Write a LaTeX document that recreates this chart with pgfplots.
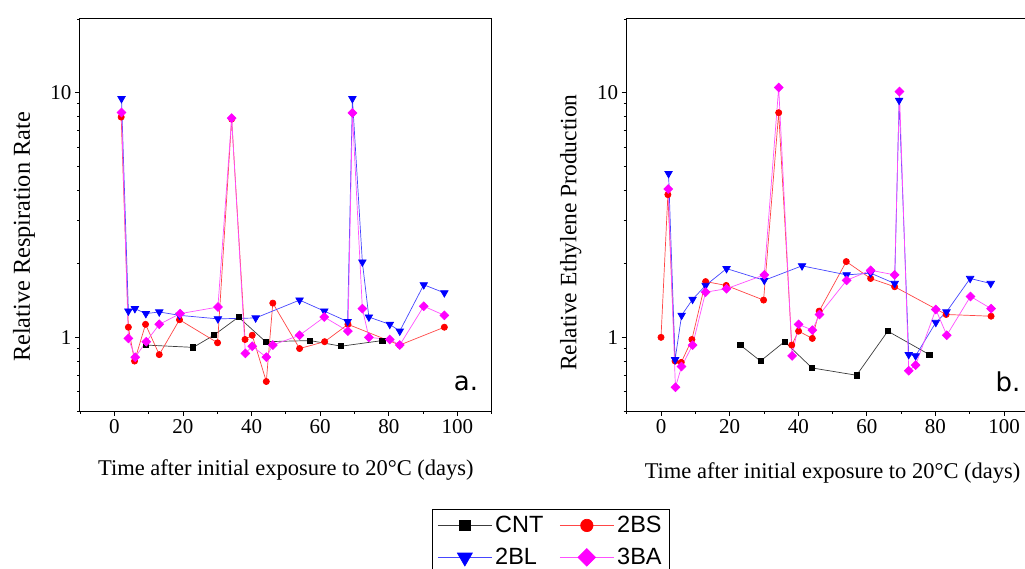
\documentclass[border=0pt]{standalone}
\usepackage{fontspec}
\setmainfont{Liberation Serif}
\newfontfamily\legfont{Liberation Sans}
\newfontfamily\djv{DejaVu Sans}
\usepackage{pgfplots}
\pgfplotsset{compat=1.18}
\definecolor{cntline}{RGB}{60,60,60}
\definecolor{bsline}{RGB}{255,70,70}
\definecolor{blline}{RGB}{70,70,255}
\definecolor{baline}{RGB}{255,80,255}
\definecolor{mred}{RGB}{255,0,0}
\definecolor{mblue}{RGB}{0,0,255}
\definecolor{mmag}{RGB}{255,0,255}
\definecolor{mblack}{RGB}{0,0,0}
\pgfplotsset{
  mypanel/.style={
    scale only axis, width=411.7pt, height=392pt, anchor=south west,
    xmin=-10, xmax=110, ymin=0.5, ymax=20,
    xtick={0,20,40,60,80,100}, minor xtick={-10,10,30,50,70,90,110},
    ytick={1,10}, yticklabels={1,10},
    minor ytick={0.5,0.6,0.7,0.8,0.9,2,3,4,5,6,7,8,9,20},
    tick align=outside, xtick pos=left, ytick pos=left,
    major tick length=5pt, minor tick length=3pt,
    every tick/.style={black, line width=0.8pt},
    axis line style={black, line width=1pt},
    /pgf/number format/assume math mode=true,
    ticklabel style={font=\fontsize{21}{24}\selectfont},
    x label style={font=\fontsize{22.5}{26}\selectfont},
    legend image code/.code={\draw[mark repeat=2,mark phase=2, every mark/.append style={scale=2}] plot coordinates {(0pt,0pt) (27pt,0pt) (54pt,0pt)};},
  },
  sCNT/.style={color=cntline, line width=0.7pt, mark=square*, mark size=2.6pt, mark options={mblack, fill=mblack}},
  sBS/.style={color=bsline, line width=0.7pt, mark=*, mark size=3.1pt, mark options={mred, fill=mred}},
  sBL/.style={color=blline, line width=0.7pt, mark=triangle*, mark size=4.3pt, mark options={mblue, fill=mblue, rotate=180}},
  sBA/.style={color=baline, line width=0.7pt, mark=square*, mark size=3.1pt, mark options={mmag, fill=mmag, rotate=45}},
}
\begin{document}
\begin{tikzpicture}
\begin{axis}[ymode=log, mypanel, at={(80pt,157pt)},
  xlabel={Time after initial exposure to 20\textdegree C (days)},
  ylabel={Relative Respiration Rate},
  x label style={at={(axis description cs:0.5,0)}, anchor=center, yshift=-59pt},
  y label style={at={(axis description cs:-0.136,0.444)}, anchor=center, font=\fontsize{24.3}{28}\selectfont},
  legend style={at={(axis description cs:0.855,-0.25)}, anchor=north west, draw=black, line width=1pt,
    font=\legfont\fontsize{23.5}{27}\selectfont, legend columns=2, legend cell align=left,
    row sep=12pt, inner xsep=5pt, inner ysep=6pt,
    nodes={inner xsep=3pt, inner ysep=1pt},
    /tikz/every even column/.append style={column sep=13pt}},
]
\addplot[sCNT] coordinates {(9.1,0.93) (23.0,0.91) (29.0,1.02) (36.2,1.21) (44.1,0.96) (57.1,0.97) (66.1,0.92) (78.1,0.97)};
\addlegendentry{CNT}
\addplot[sBS] coordinates {(2.0,7.95) (4.1,1.10) (5.9,0.80) (9.1,1.13) (13.1,0.85) (19.0,1.18) (30.1,0.95) (34.2,7.8) (38.1,0.98) (40.2,1.02) (44.3,0.66) (46.2,1.38) (54.0,0.90) (61.3,0.96) (68.1,1.13) (83.2,0.93) (96.2,1.10)};
\addlegendentry{2BS}
\addplot[sBL] coordinates {(2.1,9.45) (4.1,1.28) (6.0,1.31) (9.2,1.25) (13.1,1.27) (19.0,1.23) (30.2,1.19) (41.2,1.20) (54.0,1.42) (61.2,1.28) (68.0,1.16) (69.4,9.45) (72.3,2.03) (74.2,1.21) (80.3,1.13) (83.2,1.06) (90.2,1.64) (96.2,1.52)};
\addlegendentry{2BL}
\addplot[sBA] coordinates {(2.1,8.29) (4.1,0.99) (6.1,0.83) (9.3,0.96) (13.1,1.13) (19.2,1.25) (30.2,1.33) (34.2,7.87) (38.2,0.86) (40.2,0.92) (44.3,0.83) (46.2,0.93) (54.0,1.02) (61.2,1.21) (68.1,1.06) (69.4,8.26) (72.3,1.31) (74.2,1.00) (80.3,0.98) (83.2,0.93) (90.2,1.34) (96.2,1.23)};
\addlegendentry{3BA}
\node[font=\djv\fontsize{26}{30}\selectfont] at (axis description cs:0.9376,0.0714) {a.};
\end{axis}
\begin{axis}[ymode=log, mypanel, at={(626.7pt,157pt)},
  xlabel={Time after initial exposure to 20\textdegree C (days)},
  ylabel={Relative Ethylene Production},
  x label style={at={(axis description cs:0.5,0)}, anchor=center, yshift=-62pt},
  y label style={at={(axis description cs:-0.136,0.455)}, anchor=center, font=\fontsize{23.5}{27}\selectfont},
]
\addplot[sCNT] coordinates {(23.1,0.93) (29.0,0.80) (36.0,0.96) (44.0,0.75) (57.0,0.70) (66.1,1.06) (78.2,0.85)};
\addplot[sBS] coordinates {(0,1.00) (2.0,3.83) (4.1,0.80) (5.9,0.79) (9.0,0.98) (13.0,1.69) (19.0,1.63) (29.9,1.42) (34.3,8.28) (38.1,0.93) (40.1,1.06) (44.1,0.99) (46.1,1.28) (54.0,2.04) (61.1,1.74) (68.1,1.61) (83.1,1.24) (96.2,1.22)};
\addplot[sBL] coordinates {(2.2,4.67) (4.1,0.81) (6.0,1.23) (9.2,1.43) (13.0,1.63) (19.1,1.91) (30.1,1.71) (41.1,1.96) (54.1,1.80) (61.1,1.83) (68.1,1.66) (69.4,9.30) (72.2,0.85) (74.2,0.84) (80.1,1.15) (83.2,1.27) (90.1,1.74) (96.1,1.66)};
\addplot[sBA] coordinates {(2.1,4.04) (4.2,0.625) (6.0,0.76) (9.2,0.93) (13.0,1.53) (19.1,1.58) (30.1,1.80) (34.3,10.5) (38.2,0.84) (40.1,1.13) (44.1,1.07) (46.2,1.24) (54.1,1.71) (61.1,1.88) (68.1,1.80) (69.5,10.1) (72.2,0.73) (74.2,0.77) (80.1,1.30) (83.3,1.02) (90.2,1.47) (96.2,1.31)};
\node[font=\djv\fontsize{26}{30}\selectfont] at (axis description cs:0.926,0.074) {b.};
\end{axis}
\pgfresetboundingbox
\path[use as bounding box] (0pt,0pt) rectangle (1025pt,568pt);
\end{tikzpicture}
\end{document}
